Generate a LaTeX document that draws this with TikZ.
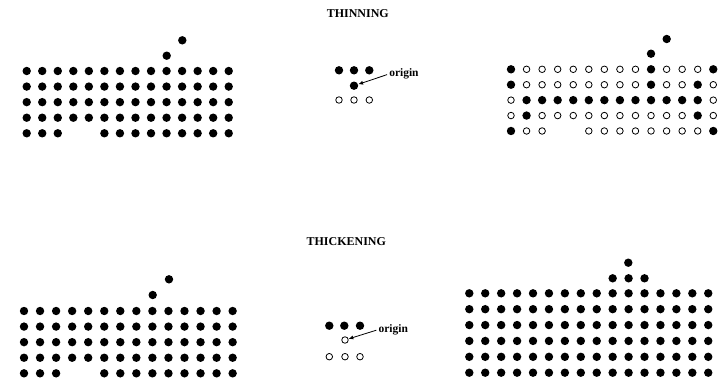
\documentclass[tikz,border=0pt]{standalone}
\usepackage{fontspec}
\setmainfont{Liberation Serif}
\usetikzlibrary{arrows.meta}

\tikzset{
  fdot/.style={circle, fill=black, inner sep=0pt, minimum size=6.3pt},
  odot/.style={circle, draw=black, line width=0.6pt, inner sep=0pt, minimum size=4.9pt},
  ttl/.style={font=\bfseries\fontsize{9}{10}\selectfont, inner sep=0pt, anchor=base},
  olab/.style={font=\bfseries\fontsize{8.6}{10}\selectfont, inner sep=0pt, anchor=base west},
  optr/.style={-{Latex[length=3.6pt,width=3pt]}, line width=0.6pt, shorten <=1.5pt}
}

\begin{document}
\begin{tikzpicture}[x=0.75pt, y=-0.75pt]
  \useasboundingbox (0,0) rectangle (718,382);

  % titles
  \node[ttl] (t1) at (357.8,17.3) {THINNING};
  \node[ttl] (t2) at (346.3,245.3) {THICKENING};

  % thinning: input set
  \foreach \j in {0,...,4}
    \foreach \i in {0,...,13} {
      \pgfmathtruncatemacro{\gap}{(\j==4)&&(\i>2)&&(\i<5)}
      \ifnum\gap=0
        \node[fdot] (a-\i-\j) at ({26.7+15.54*\i},{71+15.57*\j}) {};
      \fi
    }
  \node[fdot] (a-x1) at (166.7,55.7) {};
  \node[fdot] (a-x2) at (182.3,40.3) {};

  % thinning: structuring element
  \node[fdot] (s1-1) at (339,70.3) {};
  \node[fdot] (s1-2) at (354,70.3) {};
  \node[fdot] (s1-3) at (369.3,70.3) {};
  \node[fdot] (s1-o) at (354,85.7) {};
  \node[odot] (s1-4) at (339,100) {};
  \node[odot] (s1-5) at (354,100) {};
  \node[odot] (s1-6) at (369.3,100) {};
  \node[olab] (o1) at (389,76.7) {origin};
  \draw[optr] (o1.west) -- (s1-o);

  % thinning: result (0 open, 1 filled, 2 none)
  \foreach \row [count=\j from 0] in {
      {1,0,0,0,0,0,0,0,0,1,0,0,0,1},
      {1,0,0,0,0,0,0,0,0,1,0,0,1,0},
      {0,1,1,1,1,1,1,1,1,1,1,1,1,0},
      {0,1,0,0,0,0,0,0,0,0,0,0,1,0},
      {1,0,0,2,2,0,0,0,0,0,0,0,0,1}}
    \foreach \v [count=\i from 0] in \row {
      \ifcase\v
        \node[odot] (b-\i-\j) at ({511+15.56*\i},{69.3+15.42*\j}) {};
      \or
        \node[fdot] (b-\i-\j) at ({511+15.56*\i},{69.3+15.42*\j}) {};
      \or
      \fi
    }
  \node[fdot] (b-x1) at (651,53.7) {};
  \node[fdot] (b-x2) at (666.7,39) {};

  % thickening: input set
  \foreach \j in {0,...,4}
    \foreach \i in {0,...,13} {
      \pgfmathtruncatemacro{\gap}{(\j==4)&&(\i>2)&&(\i<5)}
      \ifnum\gap=0
        \node[fdot] (c-\i-\j) at ({24+16.05*\i},{311+15.58*\j}) {};
      \fi
    }
  \node[fdot] (c-x1) at (152.7,295) {};
  \node[fdot] (c-x2) at (169,279.3) {};

  % thickening: structuring element
  \node[fdot] (s2-1) at (329.3,325.7) {};
  \node[fdot] (s2-2) at (344.3,325.7) {};
  \node[fdot] (s2-3) at (360,325.7) {};
  \node[odot] (s2-o) at (345,340) {};
  \node[odot] (s2-4) at (329.3,356.7) {};
  \node[odot] (s2-5) at (345,356.7) {};
  \node[odot] (s2-6) at (360,356.7) {};
  \node[olab] (o2) at (378.3,332.3) {origin};
  \draw[optr] (o2.west) -- (s2-o);

  % thickening: result
  \foreach \j in {0,...,5}
    \foreach \i in {0,...,15}
      \node[fdot] (d-\i-\j) at ({469.3+15.93*\i},{293.3+15.88*\j}) {};
  \foreach \i in {9,10,11}
    \node[fdot] (d-x\i) at ({469.3+15.93*\i},278.3) {};
  \node[fdot] (d-top) at (628.3,262.7) {};
\end{tikzpicture}
\end{document}
